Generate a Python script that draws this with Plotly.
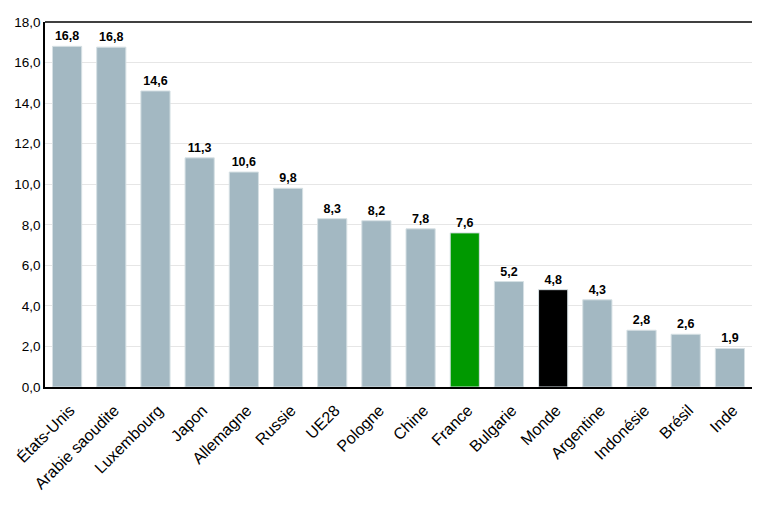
import plotly.graph_objects as go

categories = ["États-Unis", "Arabie saoudite", "Luxembourg", "Japon", "Allemagne", "Russie",
              "UE28", "Pologne", "Chine", "France", "Bulgarie", "Monde", "Argentine",
              "Indonésie", "Brésil", "Inde"]
values = [16.8, 16.76, 14.6, 11.3, 10.6, 9.8, 8.3, 8.2, 7.8, 7.6, 5.2, 4.8, 4.3, 2.8, 2.6, 1.9]
labels = ["16,8", "16,8", "14,6", "11,3", "10,6", "9,8", "8,3", "8,2", "7,8", "7,6",
          "5,2", "4,8", "4,3", "2,8", "2,6", "1,9"]
y_ticks = [0, 2, 4, 6, 8, 10, 12, 14, 16, 18]

grey = "#a3b8c2"
colors = [grey] * len(categories)
colors[categories.index("France")] = "#009900"
colors[categories.index("Monde")] = "#000000"

fig = go.Figure(go.Bar(
    x=categories, y=values,
    marker=dict(color=colors, line=dict(color="#d6e0e4", width=1)),
    text=labels, textposition="outside", cliponaxis=False,
    textfont=dict(family="Liberation Sans, Arial, sans-serif", size=12.5, color="#000000", weight="bold"),
))

fig.update_layout(
    width=769, height=507,
    margin=dict(l=37, r=25, t=14, b=128),
    plot_bgcolor="white", paper_bgcolor="white",
    separators=", ",
    bargap=0.34,
    showlegend=False,
    font=dict(family="Liberation Sans, Arial, sans-serif", color="#000000"),
    shapes=[dict(type="line", xref="paper", yref="paper", x0=0, x1=1, y0=1, y1=1,
                 line=dict(color="#000000", width=1.5))],
)
fig.update_xaxes(
    tickangle=-45, tickfont=dict(size=16), automargin=False,
    ticklabelshift=3, ticklabelstandoff=6,
    showline=True, linecolor="#000000", linewidth=1.5,
    ticks="", showgrid=False,
)
fig.update_yaxes(
    range=[0, 18], tickvals=y_ticks, tickformat=".1f", automargin=False,
    tickfont=dict(size=13.5),
    showline=True, linecolor="#000000", linewidth=1.5,
    showgrid=True, gridcolor="#e6e6e6", gridwidth=1,
    ticks="", zeroline=False,
)

fig.write_html("out.html")
